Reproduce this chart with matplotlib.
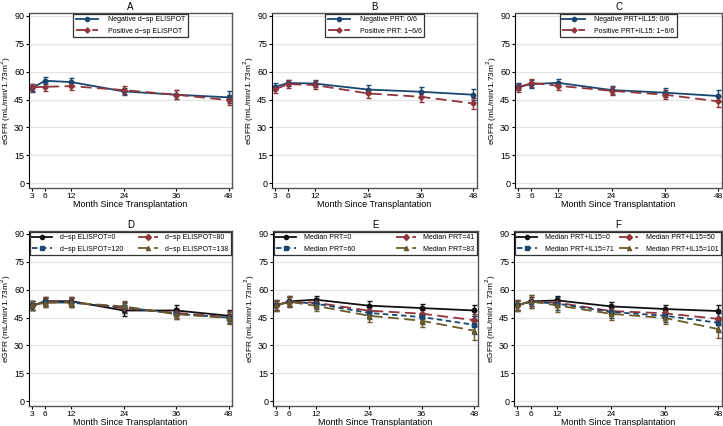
import matplotlib
matplotlib.use("Agg")
import matplotlib.pyplot as plt

plt.rcParams['font.family'] = ['Liberation Sans', 'DejaVu Sans']

months = [3, 6, 12, 24, 36, 48]

# panel A
a_neg = [51.2, 55.1, 54.4, 49.4, 47.6, 46.2]
a_neg_ci = [2.0, 2.0, 2.0, 2.0, 2.3, 3.2]
a_pos = [51.5, 51.9, 52.2, 50.1, 47.6, 44.7]
a_pos_ci = [2.0, 2.3, 2.3, 2.2, 2.4, 2.8]
# panel B
b_neg = [51.9, 53.9, 53.6, 50.4, 49.2, 47.6]
b_neg_ci = [1.8, 1.8, 2.0, 2.2, 2.3, 3.0]
b_pos = [50.5, 53.3, 52.8, 48.3, 46.5, 42.9]
b_pos_ci = [1.8, 2.0, 2.2, 2.6, 2.8, 3.2]
# panel C
c_neg = [51.9, 53.3, 54.0, 50.1, 48.7, 46.9]
c_neg_ci = [1.8, 2.0, 2.0, 2.0, 2.3, 3.0]
c_pos = [51.2, 54.0, 52.4, 49.7, 47.6, 44.0]
c_pos_ci = [2.0, 2.0, 2.2, 2.2, 2.5, 3.0]
# panel D
d_0 = [51.3, 53.8, 53.8, 48.8, 48.8, 46.0]
d_80 = [51.5, 53.5, 53.3, 50.0, 47.5, 45.3]
d_120 = [51.5, 53.2, 53.0, 50.5, 47.0, 45.0]
d_138 = [51.5, 53.0, 53.0, 51.0, 46.8, 44.8]
d_ci = [2.5, 2.3, 2.5, 2.8, 2.8, 3.0]
# panel E
e_0 = [51.5, 53.7, 54.6, 51.4, 50.1, 48.8]
e_41 = [51.5, 53.5, 53.0, 48.7, 47.1, 43.6]
e_60 = [51.5, 53.5, 52.5, 47.5, 45.3, 41.1]
e_83 = [51.5, 53.5, 51.3, 46.0, 43.3, 37.9]
e_ci0 = [2.5, 2.5, 2.2, 2.3, 2.4, 3.2]
e_ci1 = [2.8, 3.0, 3.0, 3.3, 3.5, 5.0]
# panel F
f_0 = [51.5, 53.7, 54.2, 51.0, 49.6, 48.5]
f_50 = [51.5, 53.7, 53.0, 48.5, 47.3, 44.3]
f_71 = [51.5, 53.5, 52.5, 48.0, 46.0, 42.2]
f_101 = [51.5, 53.7, 51.5, 47.0, 44.8, 38.8]
f_ci0 = [2.5, 2.5, 2.2, 2.3, 2.4, 3.2]
f_ci1 = [2.8, 3.5, 3.3, 3.3, 3.5, 5.0]

navy = '#1a476f'
maroon = '#90353b'
olive = '#6b5b2a'
black = '#111111'

W, H = 723, 426
fig = plt.figure(figsize=(W / 100, H / 100), dpi=100)


def px(l, t, r, b):
    return [l / W, 1 - b / H, (r - l) / W, (b - t) / H]


def style(ax, title, width):
    ax.set_xlim(2.3, 48.8)
    ax.set_ylim(-2.5, 91.5)
    ax.set_xticks(months)
    ax.set_yticks(range(0, 91, 15))
    ax.grid(axis='y', color='#e4e4e4', lw=0.9)
    ax.set_axisbelow(True)
    ax.tick_params(axis='y', labelsize=6.5, length=2.5, pad=1)
    ax.tick_params(axis='x', labelsize=6, length=2.5, pad=1)
    ax.set_xlabel('Month Since Transplantation', fontsize=6.5, labelpad=0)
    ax.set_ylabel('eGFR (mL/min/1.73m$^2$)', fontsize=6)
    ax.yaxis.set_label_coords(-16 / width, 0.5)
    ax.set_title(title, fontsize=7, pad=2)
    for s in ['top', 'right', 'bottom']:
        ax.spines[s].set_color('#555555')
        ax.spines[s].set_linewidth(1.0)
    ax.spines['left'].set_color('black')


def series(ax, y, ci, color, ls, mk, label, ms=3):
    ax.errorbar(months, y, yerr=ci, color=color, ls='none', marker=mk, ms=ms,
                elinewidth=1.0, capsize=1.8, capthick=1.0)
    ax.plot(months, y, color=color, ls=ls, marker=mk, ms=ms, lw=1.3, label=label)


def dash(kind):
    if kind == 'long':
        return (0, (6, 3))
    if kind == 'short':
        return (0, (3, 2))
    return '-'


top = [(29, 13, 232, 188), (272, 13, 477, 188), (515, 13, 722, 188)]
bot = [(29, 231, 232, 406), (273, 231, 478, 406), (514, 231, 722, 406)]

two = [
    ('A', a_neg, a_neg_ci, a_pos, a_pos_ci, 'Negative d\u2212sp ELISPOT', 'Positive d\u2212sp ELISPOT'),
    ('B', b_neg, b_neg_ci, b_pos, b_pos_ci, 'Negative PRT: 0/6', 'Positive PRT: 1\u22126/6'),
    ('C', c_neg, c_neg_ci, c_pos, c_pos_ci, 'Negative PRT+IL15: 0/6', 'Positive PRT+IL15: 1\u22126/6'),
]
for rect, (t, yn, cn, yp, cp, ln, lp) in zip(top, two):
    ax = fig.add_axes(px(*rect))
    style(ax, t, rect[2] - rect[0])
    series(ax, yn, cn, navy, '-', 'o', ln, ms=3)
    series(ax, yp, cp, maroon, dash('long'), 'D', lp, ms=2.6)
    leg = ax.legend(loc='upper center', fontsize=5, frameon=True, fancybox=False,
                    edgecolor='black', borderaxespad=0.1, handlelength=3.2,
                    labelspacing=0.6, borderpad=0.4, handletextpad=1.4)
    leg.get_frame().set_linewidth(0.9)

four = [
    ('D', [d_0, d_80, d_120, d_138], [d_ci, d_ci, d_ci, d_ci],
     ['d\u2212sp ELISPOT=0', 'd\u2212sp ELISPOT=80', 'd\u2212sp ELISPOT=120', 'd\u2212sp ELISPOT=138']),
    ('E', [e_0, e_41, e_60, e_83], [e_ci0, e_ci0, e_ci1, e_ci1],
     ['Median PRT=0', 'Median PRT=41', 'Median PRT=60', 'Median PRT=83']),
    ('F', [f_0, f_50, f_71, f_101], [f_ci0, f_ci0, f_ci1, f_ci1],
     ['Median PRT+IL15=0', 'Median PRT+IL15=50', 'Median PRT+IL15=71', 'Median PRT+IL15=101']),
]
styles4 = [(black, '-', 'o'), (maroon, dash('long'), 'D'),
           (navy, dash('short'), 's'), (olive, dash('long'), '^')]
for rect, (t, ys, cis, labels) in zip(bot, four):
    ax = fig.add_axes(px(*rect))
    style(ax, t, rect[2] - rect[0])
    for y, ci, lab, (c, ls, mk) in zip(ys, cis, labels, styles4):
        series(ax, y, ci, c, ls, mk, lab, ms=3)
    h, l = ax.get_legend_handles_labels()
    # column 1 = first and third series, column 2 = second and fourth
    order = [0, 2, 1, 3]
    leg = ax.legend([h[i] for i in order], [l[i] for i in order], loc='upper center',
                    ncol=2, fontsize=5, frameon=True, fancybox=False, mode='expand',
                    edgecolor='black', borderaxespad=0.1, handlelength=2.8,
                    labelspacing=0.6, borderpad=0.4, handletextpad=1.1, columnspacing=0.5)
    leg.get_frame().set_linewidth(0.9)

fig.savefig('out.png', dpi=100)
